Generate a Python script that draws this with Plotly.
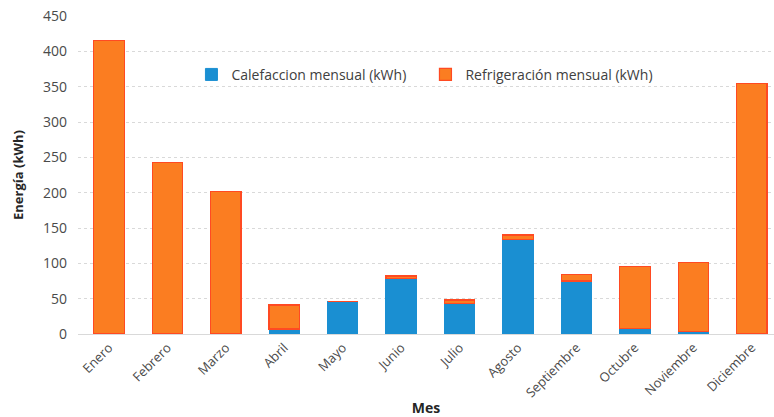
import plotly.graph_objects as go

meses = ["Enero", "Febrero", "Marzo", "Abril", "Mayo", "Junio", "Julio",
         "Agosto", "Septiembre", "Octubre", "Noviembre", "Diciembre"]
calefaccion = [0, 0, 0, 7, 46, 79, 43, 134, 75, 8, 4, 0]
refrigeracion = [415, 243, 202, 34, 0, 3, 5, 6, 9, 87, 97, 355]
y_ticks = [0, 50, 100, 150, 200, 250, 300, 350, 400, 450]

FONT = "Open Sans"
TXT = "#4a4a4a"

fig = go.Figure()
fig.add_trace(go.Bar(
    x=meses, y=calefaccion, name="Calefaccion mensual (kWh)",
    marker=dict(color="#1a8fd2", line=dict(color="#1a8fd2", width=1)),
))
fig.add_trace(go.Bar(
    x=meses, y=refrigeracion, name="Refrigeración mensual (kWh)",
    marker=dict(color="#fb7d21", line=dict(color="#ff4a22", width=1.2)),
))

fig.update_layout(
    barmode="stack",
    bargap=0.48,
    width=774, height=417,
    margin=dict(l=78, r=0, t=16, b=83),
    paper_bgcolor="white",
    plot_bgcolor="white",
    font=dict(family=FONT, color=TXT, size=13),
    showlegend=True,
    legend=dict(
        orientation="h", x=0.163, y=0.815, xanchor="left", yanchor="middle",
        font=dict(family=FONT, size=14, color="#404040"),
        traceorder="normal",
        entrywidth=189, entrywidthmode="pixels",
        bgcolor="rgba(0,0,0,0)",
    ),
    xaxis=dict(
        range=[-0.53, 11.38],
        tickangle=-45,
        tickfont=dict(family=FONT, size=13, color=TXT),
        showgrid=False,
        showline=True, linecolor="#d9d9d9", linewidth=1,
        ticks="",
        automargin=False,
        title=dict(text="<b>Mes</b>", font=dict(family=FONT, size=14, color="#262626"),
                   standoff=8),
    ),
    yaxis=dict(
        range=[0, 450],
        tickvals=y_ticks,
        tickfont=dict(family=FONT, size=14, color=TXT),
        showgrid=True, gridcolor="#d9d9d9", griddash="dot", gridwidth=1,
        zeroline=False,
        showline=False,
        ticks="",
        automargin=False,
        ticklabelstandoff=10,
        title=dict(text="<b>Energía (kWh)</b>", font=dict(family=FONT, size=13, color="#262626"),
                   standoff=16),
    ),
)

fig.write_html("out.html")
